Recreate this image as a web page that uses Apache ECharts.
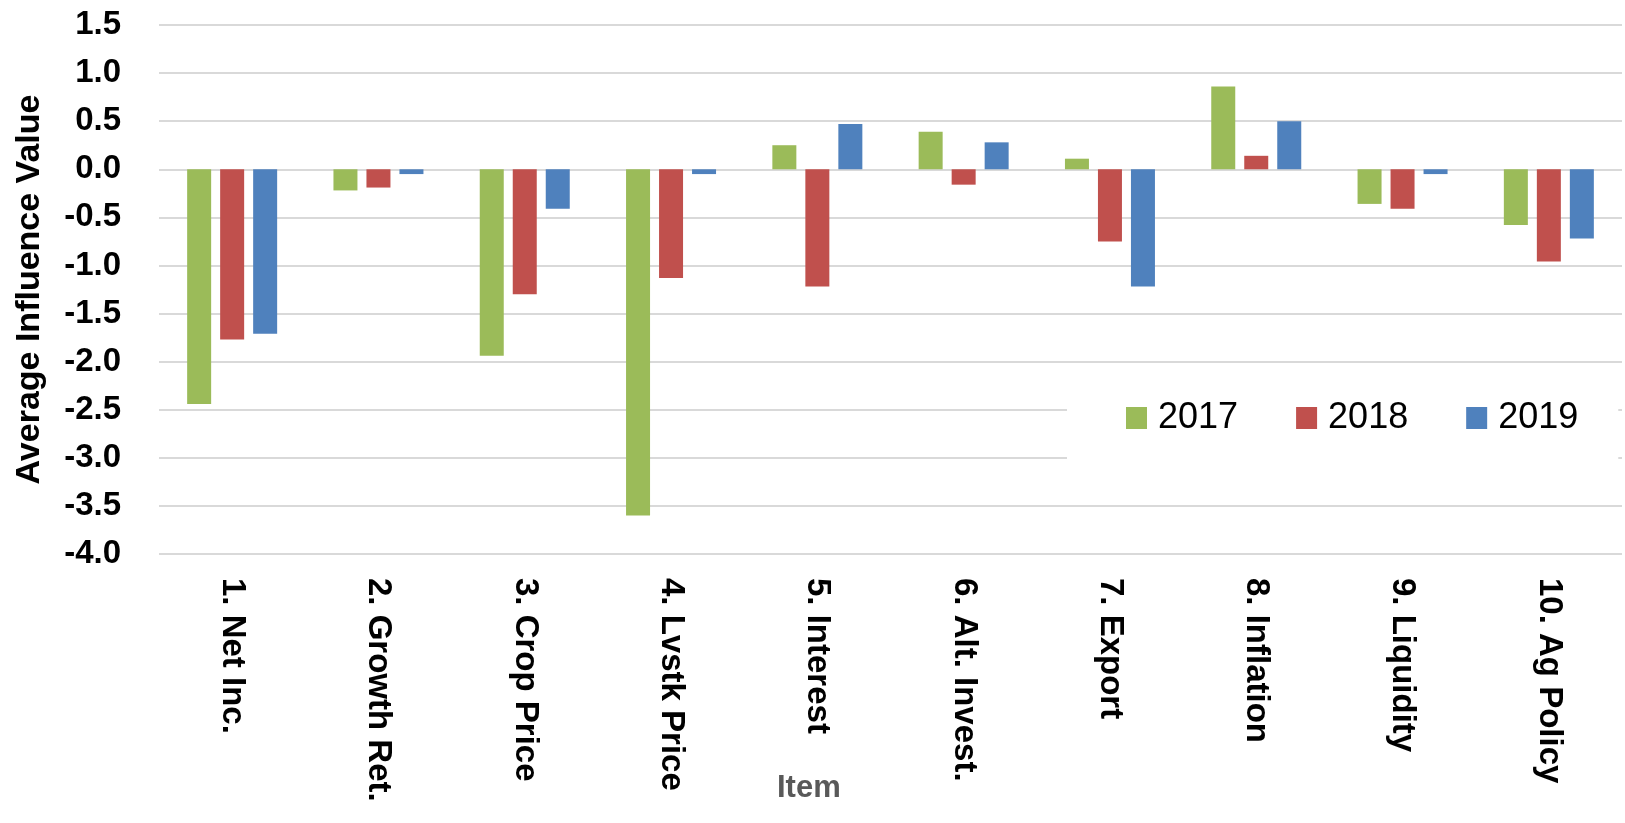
<!DOCTYPE html>
<html lang="en">
<head>
    <meta charset="utf-8">
    <title>Average Influence Value by Item</title>
    <script src="https://cdn.jsdelivr.net/npm/echarts@6.0.0/dist/echarts.min.js"></script>
    <style>
        html, body { margin: 0; padding: 0; background: #fff; }
        #chart { width: 1625px; height: 823px; }
    </style>
</head>
<body>
    <div id="chart"></div>
    <script>
        // Data
        const items = ['1. Net Inc.', '2. Growth Ret.', '3. Crop Price', '4. Lvstk Price', '5. Interest',
                       '6. Alt. Invest.', '7. Export', '8. Inflation', '9. Liquidity', '10. Ag Policy'];
        const years = ['2017', '2018', '2019'];
        const values2017 = [-2.44, -0.22, -1.94, -3.60, 0.25, 0.39, 0.11, 0.86, -0.36, -0.58];
        const values2018 = [-1.77, -0.19, -1.30, -1.13, -1.22, -0.16, -0.75, 0.14, -0.41, -0.96];
        const values2019 = [-1.71, -0.05, -0.41, -0.05, 0.47, 0.28, -1.22, 0.50, -0.05, -0.72];
        const colors = ['#9BBB59', '#C0504D', '#4F81BD'];

        const chart = echarts.init(document.getElementById('chart'));

        function bar(name, data, color) {
            return {
                name: name,
                type: 'bar',
                data: data,
                barWidth: 24,
                barGap: '37.5%',
                itemStyle: { color: color }
            };
        }

        chart.setOption({
            animation: false,
            color: colors,
            title: {
                text: 'Item',
                left: 777,
                top: 773,
                padding: 0,
                textStyle: {
                    fontFamily: 'Liberation Sans',
                    fontWeight: 'bold',
                    fontSize: 31,
                    color: '#595959'
                }
            },
            legend: {
                data: years,
                left: 1067,
                top: 370,
                padding: [30, 40, 30, 59],
                backgroundColor: '#ffffff',
                itemWidth: 21,
                itemHeight: 22,
                itemGap: 58,
                icon: 'rect',
                textStyle: {
                    fontFamily: 'Liberation Sans',
                    fontSize: 36,
                    color: '#000',
                    padding: [0, 0, 0, 6]
                }
            },
            grid: {
                left: 159,
                right: 3,
                top: 25,
                bottom: 269
            },
            xAxis: {
                type: 'category',
                data: items,
                axisLine: { show: false },
                axisTick: { show: false },
                splitLine: { show: false },
                axisLabel: {
                    rotate: -90,
                    margin: 24,
                    interval: 0,
                    fontFamily: 'Liberation Sans',
                    fontWeight: 'bold',
                    fontSize: 33,
                    color: '#000'
                }
            },
            yAxis: {
                type: 'value',
                min: -4,
                max: 1.5,
                interval: 0.5,
                name: 'Average Influence Value',
                nameLocation: 'middle',
                nameGap: 112,
                nameTextStyle: {
                    fontFamily: 'Liberation Sans',
                    fontWeight: 'bold',
                    fontSize: 34,
                    color: '#000'
                },
                axisLine: { show: false },
                axisTick: { show: false },
                splitLine: { lineStyle: { color: '#d9d9d9', width: 2 } },
                axisLabel: {
                    margin: 38,
                    formatter: function (v) { return v.toFixed(1); },
                    fontFamily: 'Liberation Sans',
                    fontWeight: 'bold',
                    fontSize: 33,
                    color: '#000'
                }
            },
            series: [
                bar(years[0], values2017, colors[0]),
                bar(years[1], values2018, colors[1]),
                bar(years[2], values2019, colors[2])
            ]
        });

        window.addEventListener('resize', function () {
            chart.resize();
        });
    </script>
</body>
</html>
